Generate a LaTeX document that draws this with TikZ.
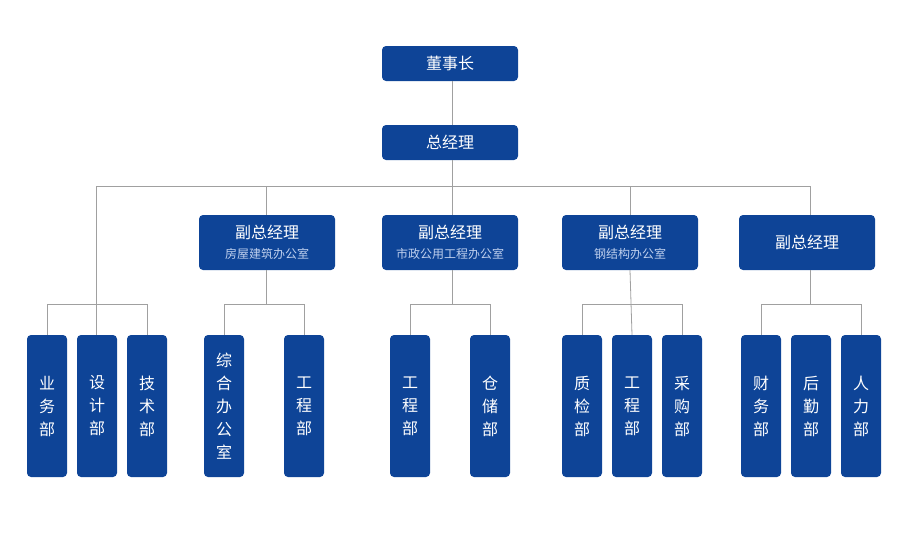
\documentclass[tikz,border=0pt]{standalone}
\usepackage{fontspec}
\setmainfont{Noto Sans CJK SC}
\begin{document}
\begin{tikzpicture}[x=1pt,y=1pt,
  box/.style={fill=boxblue,draw=none,rounded corners=4pt,text=white,font=\fontsize{16}{23}\selectfont,align=center,inner sep=0pt},
  wide/.style={box,minimum width=136pt,minimum height=35pt},
  vp/.style={box,minimum width=136pt,minimum height=55pt},
  dept/.style={box,minimum width=40pt,minimum height=142pt},
  ln/.style={draw=linegray,line width=0.8pt}]
\definecolor{boxblue}{HTML}{0E4497}
\definecolor{linegray}{HTML}{A0A0A0}
\definecolor{subc}{HTML}{BFD0EE}
\useasboundingbox (0,0) rectangle (900,-554);
\newcommand{\sub}[1]{\\[-3pt]{\fontsize{12}{14}\selectfont\color{subc}#1}}
\node[wide] (chair) at (450,-63.5) {董事长};
\node[wide] (gm) at (450,-142.5) {总经理};
\node[vp] (vp1) at (267,-242.5) {副总经理\sub{房屋建筑办公室}};
\node[vp] (vp2) at (450,-242.5) {副总经理\sub{市政公用工程办公室}};
\node[vp] (vp3) at (630,-242.5) {副总经理\sub{钢结构办公室}};
\node[vp] (vp4) at (807,-242.5) {副总经理};
\foreach \n/\x/\t in {a1/47/业\\务\\部, a2/97/设\\计\\部, a3/147/技\\术\\部,
  b1/224/综\\合\\办\\公\\室, b2/304/工\\程\\部, c1/410/工\\程\\部, c2/490/仓\\储\\部,
  d1/582/质\\检\\部, d2/632/工\\程\\部, d3/682/采\\购\\部,
  e1/761/财\\务\\部, e2/811/后\\勤\\部, e3/861/人\\力\\部}
  \node[dept] (\n) at (\x,-406) {\t};
\coordinate (hub) at (452,-186);
\draw[ln] (chair.south -| hub) -- (gm.north -| hub);
\draw[ln] (gm.south -| hub) -- (hub);
\draw[ln] (hub) -| (vp4.north -| 810,0);
\draw[ln] (hub) -| (a2.north -| 96,0);
\draw[ln] (266,-186) -- (vp1.north -| 266,0);
\draw[ln] (hub) -- (vp2.north -| hub);
\draw[ln] (630,-186) -- (vp3.north);
\draw[ln] (a1.north) -- ++(0,30) -| (a3.north);
\draw[ln] (vp1.south -| 266,0) -- (266,-305);
\draw[ln] (b1.north) -- ++(0,30) -| (b2.north);
\draw[ln] (vp2.south -| hub) -- (452,-305);
\draw[ln] (c1.north) -- ++(0,30) -| (c2.north);
\draw[ln] (vp3.south) -- (d2.north);
\draw[ln] (d1.north) -- ++(0,30) -| (d3.north);
\draw[ln] (vp4.south -| 810,0) -- (810,-305);
\draw[ln] (e1.north) -- ++(0,30) -| (e3.north);
\end{tikzpicture}
\end{document}
